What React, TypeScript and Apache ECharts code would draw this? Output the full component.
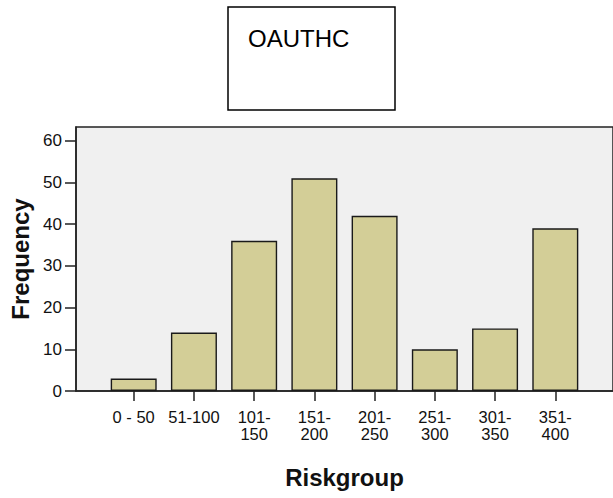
import React, { useEffect, useRef } from "react";
import * as echarts from "echarts";

const categories: string[] = ["0 - 50", "51-100", "101-150", "151-200", "201-250", "251-300", "301-350", "351-400"];
const frequencies: number[] = [3, 14, 36, 51, 42, 10, 15, 39];
const yTicks: number[] = [0, 10, 20, 30, 40, 50, 60];
const xTicks: number[] = categories.map((_, i) => i);
const boxTitle = "OAUTHC";
const xName = "Riskgroup";
const yName = "Frequency";

function fmtCat(v: number): string {
  const c = categories[Math.round(v)];
  if (c === undefined) return "";
  if (/^\d{3}-/.test(c)) return c.replace("-", "-\n");
  return c;
}

export default function App() {
  const ref = useRef<HTMLDivElement>(null);
  useEffect(() => {
    if (!ref.current) return;
    const chart = echarts.init(ref.current, null, { renderer: "svg" });
    const font = "'Liberation Sans', Arial, sans-serif";
    chart.setOption({
      animation: false,
      backgroundColor: "#ffffff",
      grid: {
        left: 76,
        top: 127,
        right: -3,
        bottom: 107,
        show: true,
        backgroundColor: "#f0f0f0",
        borderColor: "#222222",
        borderWidth: 1.5,
      },
      xAxis: {
        type: "value",
        min: -0.958,
        max: 7.958,
        name: xName,
        nameLocation: "middle",
        nameGap: 74,
        nameTextStyle: { fontFamily: font, fontSize: 24, fontWeight: "bold", color: "#111" },
        axisLine: { show: true, onZero: false, lineStyle: { color: "#222", width: 1.5 } },
        axisTick: { show: true, length: 10, customValues: xTicks, lineStyle: { color: "#222", width: 1.5 } },
        axisLabel: {
          customValues: xTicks,
          formatter: (v: number) => fmtCat(v),
          margin: 17,
          fontFamily: font,
          fontSize: 16.5,
          lineHeight: 17,
          color: "#111",
        },
        splitLine: { show: false },
      },
      yAxis: {
        type: "value",
        min: 0,
        max: 63.3,
        name: yName,
        nameLocation: "middle",
        nameRotate: 90,
        nameGap: 42,
        nameTextStyle: { fontFamily: font, fontSize: 24, fontWeight: "bold", color: "#111" },
        axisLine: { show: true, onZero: false, lineStyle: { color: "#222", width: 1.5 } },
        axisTick: { show: true, length: 11, customValues: yTicks, lineStyle: { color: "#222", width: 1.5 } },
        axisLabel: {
          customValues: yTicks,
          margin: 14,
          fontFamily: font,
          fontSize: 17,
          color: "#111",
        },
        splitLine: { show: false },
      },
      series: [
        {
          type: "bar",
          barWidth: 46,
          data: frequencies.map((v, i) => [i, v]),
          itemStyle: { color: "#d3ce97", borderColor: "#1a1a1a", borderWidth: 1.4 },
        },
      ],
      graphic: [
        {
          type: "rect",
          shape: { x: 228, y: 7, width: 167, height: 103 },
          style: { fill: "#ffffff", stroke: "#000000", lineWidth: 1.5 },
        },
        {
          type: "text",
          x: 248,
          y: 38,
          style: {
            text: boxTitle,
            fontFamily: font,
            fontSize: 24,
            fill: "#000000",
            verticalAlign: "middle",
          },
        },
      ],
    });
    return () => chart.dispose();
  }, []);
  return <div ref={ref} style={{ position: "fixed", left: 0, top: 0, width: 613, height: 498 }} />;
}
